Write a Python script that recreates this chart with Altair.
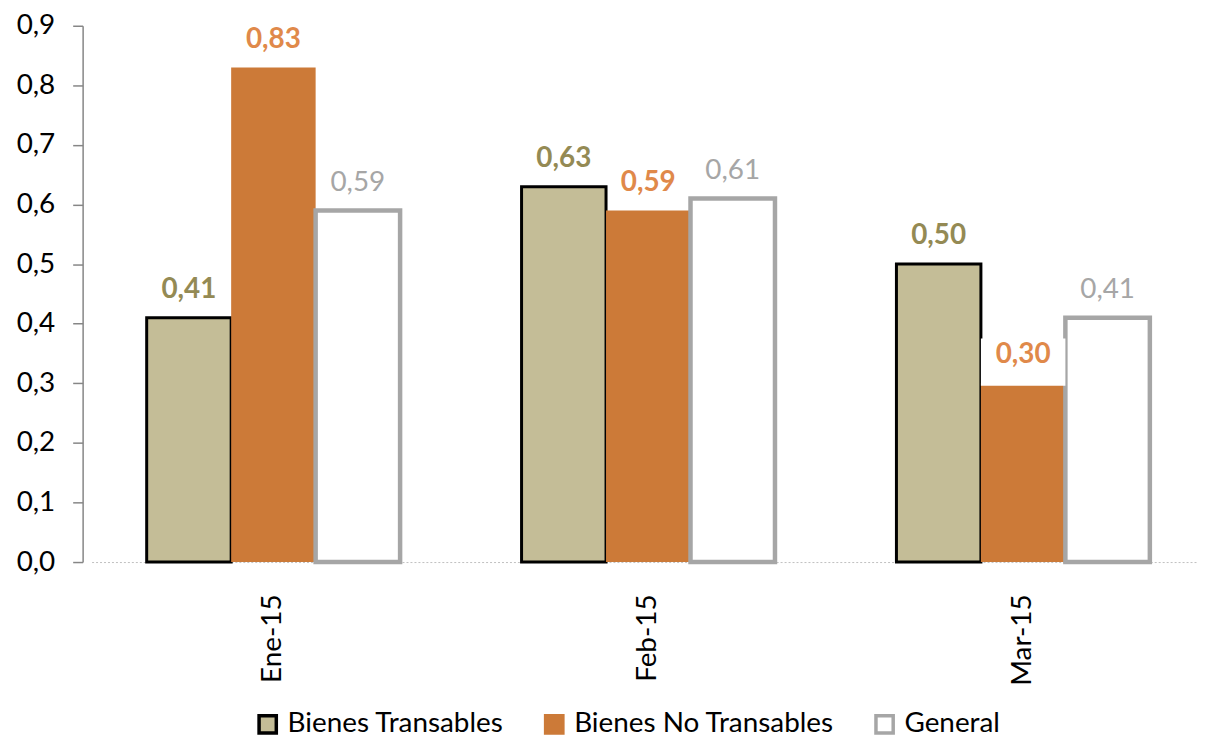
import altair as alt
import pandas as pd

months = ["Ene-15", "Feb-15", "Mar-15"]
series = ["Bienes Transables", "Bienes No Transables", "General"]
transables = [0.41, 0.63, 0.50]
no_transables = [0.83, 0.59, 0.30]
general = [0.59, 0.61, 0.41]

rows = []
for vals, s in zip([transables, no_transables, general], series):
    for m, v in zip(months, vals):
        rows.append({"mes": m, "serie": s, "valor": v,
                     "etiqueta": f"{v:.2f}".replace(".", ",")})
df = pd.DataFrame(rows)

FONT = "Lato"
FS = 28
fills = ["#C4BD97", "#CC7A38", "#FFFFFF"]
strokes = ["#000000", "#CC7A38", "#A6A6A6"]
label_colors = ["#948A54", "#E0894A", "#A6A6A6"]

x = alt.X("mes:N", sort=months,
          scale=alt.Scale(paddingInner=0.324, paddingOuter=0.147, range=[9, 1128]),
          axis=alt.Axis(title=None, labelAngle=-90, labelAlign="right", labelBaseline="middle",
                        labelFontSize=FS, labelFont=FONT, labelColor="#000000",
                        labelPadding=32, tickSize=0, domainColor="#BFBFBF", domainDash=[2, 2],
                        domainWidth=1))
xo = alt.XOffset("serie:N", sort=series, scale=alt.Scale(paddingInner=0, paddingOuter=0))
y = alt.Y("valor:Q", scale=alt.Scale(domain=[0, 0.9], nice=False),
          axis=alt.Axis(title=None, values=[i / 10 for i in range(10)],
                        labelExpr="replace(format(datum.value, '.1f'), '.', ',')",
                        labelFontSize=FS, labelFont=FONT, labelColor="#000000",
                        tickSize=10, tickColor="#868686", domainColor="#868686",
                        labelPadding=18, grid=False, domainWidth=1.5, tickWidth=1.5))

stroke_expr = ("datum.serie == 'General' ? 4.5 : "
               "(datum.serie == 'Bienes Transables' ? 3 : 0)")

bars = alt.Chart(df).mark_bar(strokeWidth=alt.expr(stroke_expr)).encode(
    x=x, xOffset=xo, y=y,
    fill=alt.Fill("serie:N", sort=series,
                  scale=alt.Scale(domain=series, range=fills),
                  legend=alt.Legend(title=None, orient="none", direction="horizontal",
                                    legendX=172, legendY=688, padding=0,
                                    labelFontSize=FS, labelFont=FONT, labelColor="#000000",
                                    labelLimit=600,
                                    symbolType="square", symbolSize=300, symbolStrokeWidth=3.5,
                                    columnPadding=34, labelOffset=6)),
    stroke=alt.Stroke("serie:N", sort=series,
                      scale=alt.Scale(domain=series, range=strokes)),
)

# white background box behind the "0,30" data label
box = alt.Chart(df).transform_filter(
    (alt.datum.serie == "Bienes No Transables") & (alt.datum.mes == "Mar-15")
).transform_calculate(
    y0="datum.valor - 0.004", y1="datum.valor + 0.075"
).mark_bar(fill="#FFFFFF", stroke=None).encode(
    x=x, xOffset=xo, y=alt.Y("y0:Q"), y2="y1:Q"
)

def label_layer(bold):
    base = alt.Chart(df)
    if bold:
        base = base.transform_filter(alt.datum.serie != "General")
    else:
        base = base.transform_filter(alt.datum.serie == "General")
    return base.mark_text(baseline="bottom", dy=-14, fontSize=FS, font=FONT,
                          fontWeight="bold" if bold else "normal").encode(
        x=x, xOffset=xo, y=alt.Y("valor:Q"),
        text="etiqueta:N",
        color=alt.Color("serie:N", sort=series,
                        scale=alt.Scale(domain=series, range=label_colors), legend=None),
    )

chart = alt.layer(bars, box, label_layer(True), label_layer(False)).resolve_scale(
    color="independent").properties(
    width=1120, height=539,
    autosize=alt.AutoSizeParams(type="none"),
    padding={"left": 75, "top": 16, "right": 0, "bottom": 175},
).configure_view(stroke=None)

chart.save("out.html", embed_options={"renderer": "svg", "actions": False})
